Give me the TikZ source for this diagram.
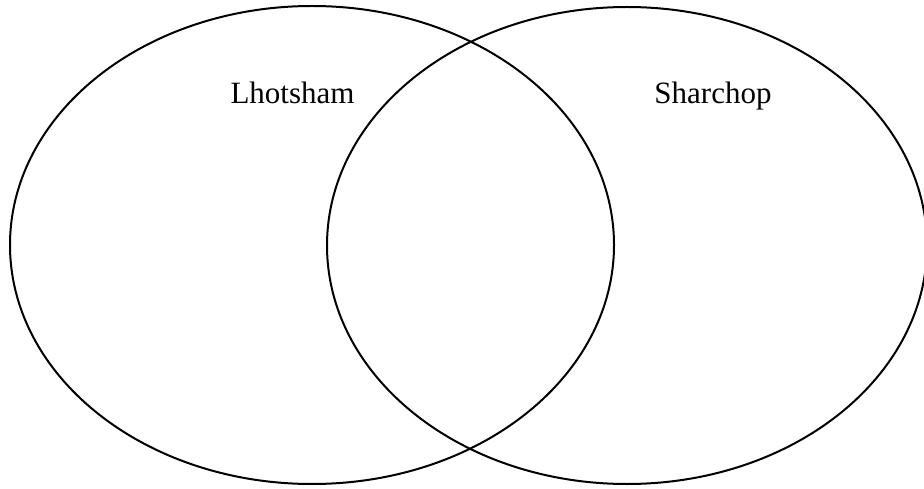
\documentclass[tikz,border=0pt]{standalone}
\usepackage{fontspec}
\setmainfont{Liberation Serif}
\begin{document}
\begin{tikzpicture}[x=1pt,y=-1pt,
  setring/.style={draw=black,line width=2pt},
  setlabel/.style={anchor=base,inner sep=0pt,font=\fontsize{31}{37}\selectfont}]
\useasboundingbox (0,0) rectangle (924,489);
\clip (0,0) rectangle (924,489);
\draw[setring] (312,245) ellipse [x radius=302pt, y radius=239pt];
\draw[setring] (627,245.5) ellipse [x radius=300pt, y radius=238.5pt];
\node[setlabel] (lhotsham) at (292.5,104) {Lhotsham};
\node[setlabel] (sharchop) at (713,104) {Sharchop};
\end{tikzpicture}
\end{document}
